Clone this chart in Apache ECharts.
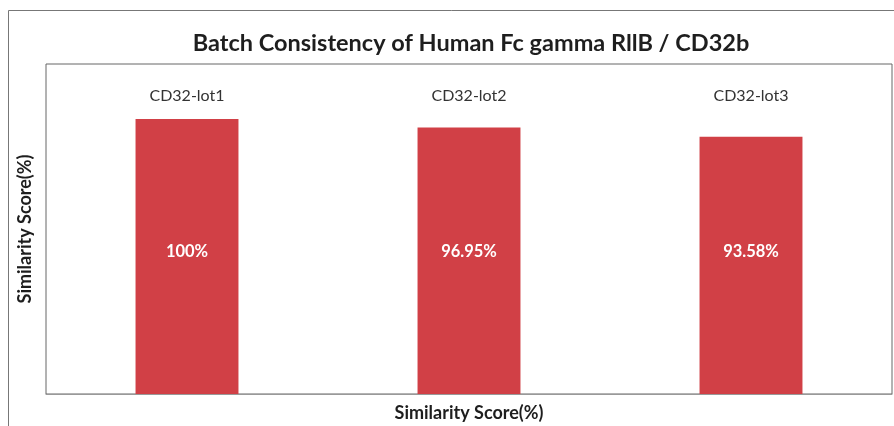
<!DOCTYPE html>
<html>
<head>
<meta charset="utf-8">
<script src="https://cdn.jsdelivr.net/npm/echarts@6/dist/echarts.min.js"></script>
<style>
  html, body { margin: 0; padding: 0; background: #fff; }
  #chart { width: 894px; height: 426px; }
</style>
</head>
<body>
<div id="chart"></div>
<script>
// data
const lots = ['CD32-lot1', 'CD32-lot2', 'CD32-lot3'];
const similarity = [100, 96.95, 93.58];
const valueLabels = ['100%', '96.95%', '93.58%'];

const FONT = 'Lato, "Noto Sans", sans-serif';

const chart = echarts.init(document.getElementById('chart'), null, { renderer: 'canvas' });

const option = {
  backgroundColor: '#fff',
  animation: false,
  title: {
    text: 'Batch Consistency of Human Fc gamma RllB / CD32b',
    left: 466,
    top: 26,
    textAlign: 'center',
    textStyle: { fontFamily: FONT, fontSize: 23.5, fontWeight: 'bold', color: '#1e1e1e' }
  },
  graphic: [{
    type: 'polyline',
    shape: { points: [[8.5, 426], [8.5, 10.5], [894, 10.5]] },
    style: { stroke: '#777', lineWidth: 1, fill: null },
    silent: true
  }],
  grid: {
    left: 46, right: 2, top: 64, bottom: 32,
    outerBoundsMode: 'none',
    show: true, borderColor: '#666', borderWidth: 1, backgroundColor: '#fff'
  },
  xAxis: [{
    type: 'category',
    position: 'top',
    data: lots,
    axisLine: { show: false },
    axisTick: { show: false },
    axisLabel: {
      inside: true, margin: 24,
      fontFamily: FONT, fontSize: 16, color: '#333'
    }
  }, {
    type: 'category',
    position: 'bottom',
    data: lots,
    axisLine: { show: true, lineStyle: { color: '#999' } },
    axisTick: { show: false },
    axisLabel: { show: false },
    name: 'Similarity Score(%)',
    nameLocation: 'middle',
    nameGap: 10,
    nameMoveOverlap: false,
    nameTextStyle: { fontFamily: FONT, fontSize: 18, fontWeight: 'bold', color: '#1e1e1e' }
  }],
  yAxis: {
    type: 'value',
    min: 0, max: 120,
    axisLine: { show: false },
    axisTick: { show: false },
    axisLabel: { show: false },
    splitLine: { show: false },
    name: 'Similarity Score(%)',
    nameLocation: 'middle',
    nameGap: 12,
    nameMoveOverlap: false,
    nameTextStyle: { fontFamily: FONT, fontSize: 18, fontWeight: 'bold', color: '#1e1e1e' }
  },
  series: [{
    type: 'bar',
    xAxisIndex: 0,
    data: similarity,
    barWidth: '36.5%',
    itemStyle: { color: '#d14046' },
    label: {
      show: true,
      position: 'insideBottom',
      distance: 134,
      formatter: p => valueLabels[p.dataIndex],
      fontFamily: FONT, fontSize: 16.5, fontWeight: 'bold', color: '#fff'
    }
  }]
};

chart.setOption(option);
</script>
</body>
</html>
